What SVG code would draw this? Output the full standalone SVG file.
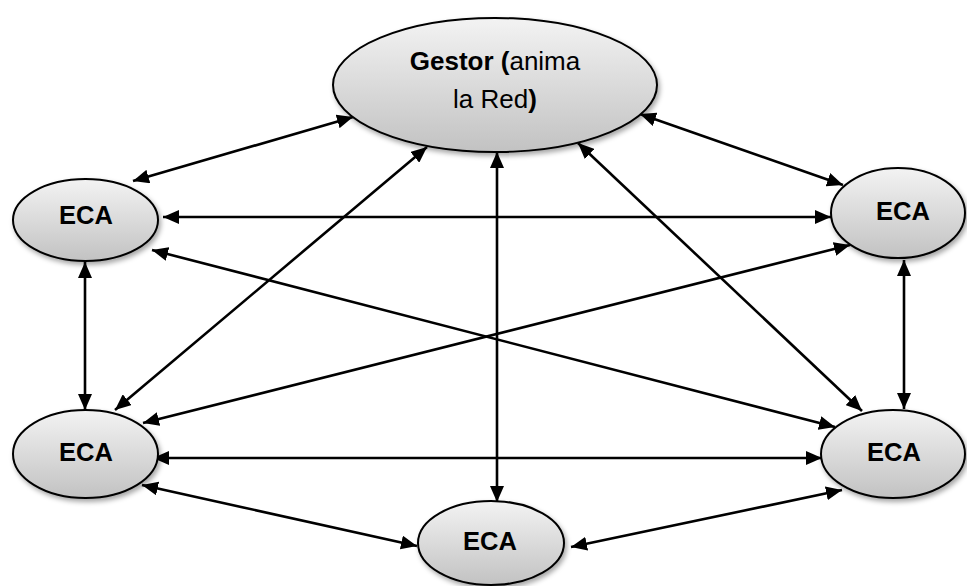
<svg xmlns="http://www.w3.org/2000/svg" width="967" height="586" viewBox="0 0 967 586">
<style>
.node ellipse{fill:url(#g);stroke:#000;stroke-width:2;filter:url(#sh)}
.lbl{font-family:"Liberation Sans",Arial,sans-serif;font-size:25.5px;fill:#000;text-anchor:middle}
.b{font-weight:bold}
#connectors line{stroke:#000;stroke-width:2.6;marker-start:url(#ah);marker-end:url(#ah)}
</style>
<defs>
<linearGradient id="g" x1="0" y1="0" x2="0" y2="1">
<stop offset="0" stop-color="#f3f3f3"/>
<stop offset="1" stop-color="#c2c2c2"/>
</linearGradient>
<filter id="sh" x="-10%" y="-10%" width="125%" height="135%">
<feDropShadow dx="2" dy="3" stdDeviation="2.5" flood-color="#000" flood-opacity="0.35"/>
</filter>
<marker id="ah" markerUnits="userSpaceOnUse" markerWidth="17" markerHeight="14" refX="16" refY="7" orient="auto-start-reverse" viewBox="0 0 17 14">
<path d="M0,0 L16,7 L0,14 z" fill="#000"/>
</marker>
</defs>
<g id="connectors">
<line x1="133" y1="181" x2="353" y2="117"/>
<line x1="640" y1="114" x2="843" y2="185"/>
<line x1="115" y1="410" x2="427" y2="147"/>
<line x1="578" y1="143" x2="862" y2="411"/>
<line x1="497" y1="152" x2="497" y2="502"/>
<line x1="163" y1="217" x2="831" y2="217"/>
<line x1="152" y1="250" x2="835" y2="427"/>
<line x1="850" y1="245" x2="143" y2="423"/>
<line x1="85" y1="262" x2="85" y2="410"/>
<line x1="904" y1="260" x2="904" y2="409"/>
<line x1="153" y1="458" x2="822" y2="458"/>
<line x1="142" y1="485" x2="417" y2="546"/>
<line x1="842" y1="490" x2="571" y2="547"/>
</g>
<g id="gestor" class="node">
<ellipse cx="495" cy="85" rx="162" ry="67"/>
<text class="lbl" x="495" y="70" style="font-size:26px"><tspan class="b">Gestor (</tspan>anima</text>
<text class="lbl" x="495" y="108" style="font-size:26px">la Red<tspan class="b">)</tspan></text>
</g>
<g id="eca-tl" class="node">
<ellipse cx="85.5" cy="220" rx="72.5" ry="41"/>
<text class="lbl b" x="86" y="224">ECA</text>
</g>
<g id="eca-tr" class="node">
<ellipse cx="898" cy="213" rx="67" ry="45"/>
<text class="lbl b" x="903" y="220">ECA</text>
</g>
<g id="eca-bl" class="node">
<ellipse cx="85.5" cy="454" rx="72.5" ry="44"/>
<text class="lbl b" x="86" y="461">ECA</text>
</g>
<g id="eca-br" class="node">
<ellipse cx="893" cy="454" rx="72" ry="44"/>
<text class="lbl b" x="894" y="461">ECA</text>
</g>
<g id="eca-b" class="node">
<ellipse cx="491" cy="543" rx="73" ry="42"/>
<text class="lbl b" x="490" y="550">ECA</text>
</g>
</svg>
